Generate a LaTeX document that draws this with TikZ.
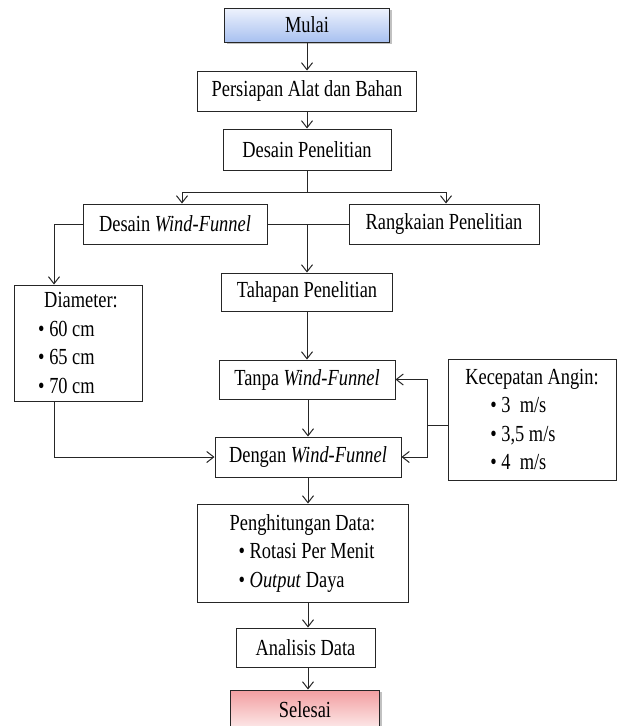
\documentclass[tikz,border=0pt]{standalone}
\usepackage{fontspec}
\setmainfont[FakeStretch=0.8]{Liberation Serif}
\usetikzlibrary{arrows.meta,shadows,positioning}
\definecolor{biruAtas}{RGB}{238,243,253}
\definecolor{biruBawah}{RGB}{168,192,240}
\definecolor{merahAtas}{RGB}{242,158,160}
\definecolor{merahBawah}{RGB}{253,236,236}
\tikzset{every picture/.style={line width=1pt}}
\tikzset{
  kotak/.style={draw=black!85, rectangle, inner sep=0pt, align=center,
    font=\fontsize{23}{28.5}\selectfont},
  bayang/.style={drop shadow={shadow xshift=2pt, shadow yshift=-2pt, fill=black!40, opacity=0.6}},
  panah/.style={draw=black!85, -{Straight Barb[length=7pt,width=11pt]}},
  garis/.style={draw=black!85},
}

\begin{document}
\begin{tikzpicture}[x=1pt,y=-1pt]
    \useasboundingbox[fill=white] (0,0) rectangle (617,726);

    % awal
    \node[kotak, bayang, minimum width=165pt, minimum height=34pt,
      top color=biruAtas, bottom color=biruBawah] (mulai) at (307,25) {Mulai};
    \node[kotak, minimum width=219pt, minimum height=40pt] (persiapan) at (307,91) {Persiapan Alat dan Bahan};
    \node[kotak, minimum width=168pt, minimum height=41pt] (desain) at (307,149.5) {Desain Penelitian};

    % dua cabang desain
    \node[kotak, minimum width=184pt, minimum height=40pt] (desainwf) at (175,224) {Desain \textit{Wind-Funnel}};
    \node[kotak, minimum width=190pt, minimum height=40pt] (rangkaian) at (444,224) {Rangkaian Penelitian};

    % variasi diameter
    \node[kotak, minimum width=128pt, minimum height=116pt, align=left] (diameter) at (78,343)
      {\hspace*{6pt}Diameter:\\ \textbullet\ 60 cm\\ \textbullet\ 65 cm\\ \textbullet\ 70 cm};

    % tahapan pengujian
    \node[kotak, minimum width=171pt, minimum height=38pt] (tahapan) at (307,292) {Tahapan Penelitian};
    \node[kotak, minimum width=176pt, minimum height=39pt] (tanpa) at (307,379.5) {Tanpa \textit{Wind-Funnel}};
    \node[kotak, minimum width=186pt, minimum height=40pt] (dengan) at (308,457) {Dengan \textit{Wind-Funnel}};

    % variasi kecepatan angin
    \node[kotak, minimum width=168pt, minimum height=121pt, align=left] (kecepatan) at (532,419.5)
      {Kecepatan Angin:\\ \hspace*{25pt}\textbullet\ 3\ \ m/s\\ \hspace*{25pt}\textbullet\ 3,5 m/s\\ \hspace*{25pt}\textbullet\ 4\ \ m/s};

    % pengolahan data
    \node[kotak, minimum width=211pt, minimum height=98pt, align=left] (penghitungan) at (302.5,553)
      {Penghitungan Data:\\ \hspace*{9pt}\textbullet\ Rotasi Per Menit\\ \hspace*{9pt}\textbullet\ \textit{Output} Daya};
    \node[kotak, minimum width=139pt, minimum height=39pt] (analisis) at (305.5,647.5) {Analisis Data};
    \node[kotak, bayang, minimum width=149pt, minimum height=40pt,
      top color=merahAtas, bottom color=merahBawah] (selesai) at (305,710) {Selesai};

    % alur utama
    \draw[panah] (mulai.south -| persiapan.north) -- (persiapan.north);
    \draw[panah] (persiapan.south) -- (desain.north);
    \coordinate (cabang) at (307,192);
    \draw[garis] (desain.south) -- (cabang);
    \draw[panah] (cabang) -| ([xshift=7pt]desainwf.north);
    \draw[panah] (cabang) -| ([xshift=2pt]rangkaian.north);
    \draw[garis] (desainwf.east) -- (rangkaian.west);
    \draw[panah] (desainwf.east -| tahapan.north) -- (tahapan.north);
    \draw[panah] (desainwf.west) -| ([xshift=-24pt]diameter.north);
    \draw[panah] (tahapan.south) -- (tanpa.north);
    \draw[panah] (tanpa.south -| dengan.north) -- (dengan.north);
    \draw[panah] ([xshift=-24pt]diameter.south) |- (dengan.west);

    % kecepatan angin ke kedua pengujian
    \coordinate (simpul) at (427,425);
    \draw[garis] (kecepatan.west |- simpul) -- (simpul);
    \draw[panah] (simpul) |- (tanpa.east);
    \draw[panah] (simpul) |- (dengan.east);

    % menuju selesai
    \draw[panah] (dengan.south) -- (dengan.south |- penghitungan.north);
    \draw[panah] (dengan.south |- penghitungan.south) -- (dengan.south |- analisis.north);
    \draw[panah] (dengan.south |- analisis.south) -- (dengan.south |- selesai.north);
\end{tikzpicture}
\end{document}
